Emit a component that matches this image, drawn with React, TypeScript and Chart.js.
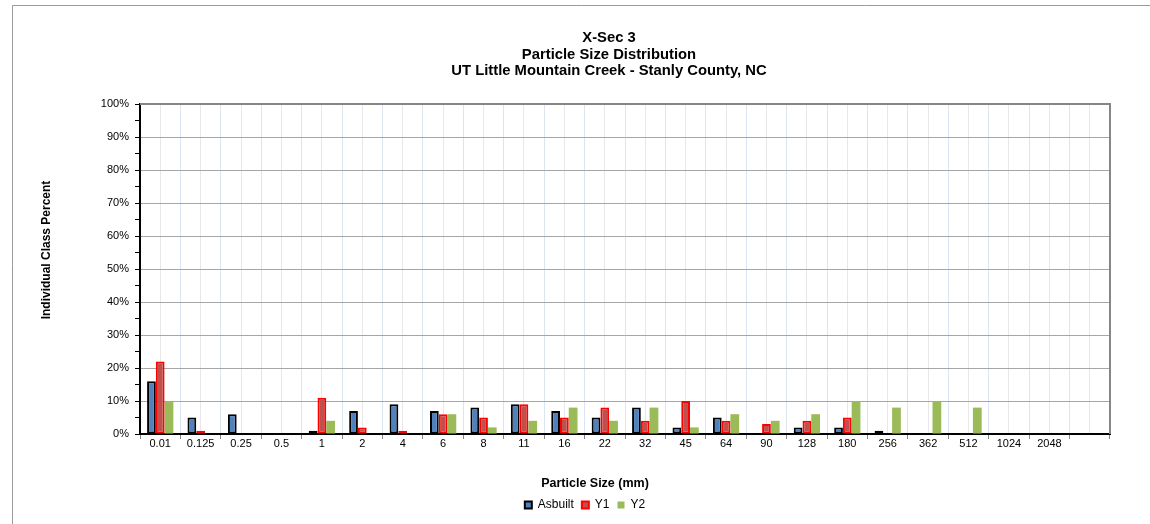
import React, { useEffect, useRef } from "react";
import { Chart, registerables } from "chart.js";

Chart.register(...registerables);

const categories = ["0.01", "0.125", "0.25", "0.5", "1", "2", "4", "6", "8", "11", "16", "22", "32", "45", "64", "90", "128", "180", "256", "362", "512", "1024", "2048", ""];
const asbuiltValues = [16, 5, 6, 0, 1, 7, 9, 7, 8, 9, 7, 5, 8, 2, 5, 0, 2, 2, 1, 0, 0, 0, 0, null];
const y1Values = [22, 1, 0, 0, 11, 2, 1, 6, 5, 9, 5, 8, 4, 10, 4, 3, 4, 5, 0, 0, 0, 0, 0, null];
const y2Values = [10, 0, 0, 0, 4, 0, 0, 6, 2, 4, 8, 4, 8, 2, 6, 4, 6, 10, 8, 10, 8, 0, 0, null];
const titleLines = ["X-Sec 3", "Particle Size Distribution", "UT Little Mountain Creek - Stanly County, NC"];
const xAxisTitle = "Particle Size (mm)";
const yAxisTitle = "Individual Class Percent";

const FONT = "'Liberation Sans', Arial, sans-serif";

const decorPlugin = {
  id: "decor",
  beforeDraw(chart: any) {
    const ctx = chart.ctx;
    ctx.save();
    ctx.strokeStyle = "#9a9a9a";
    ctx.lineWidth = 1;
    ctx.beginPath();
    ctx.moveTo(12.5, 524);
    ctx.lineTo(12.5, 5.5);
    ctx.lineTo(1150, 5.5);
    ctx.stroke();
    ctx.restore();
  },
  afterDraw(chart: any) {
    const ctx = chart.ctx;
    const a = chart.chartArea;
    ctx.save();
    // plot border top & right
    ctx.strokeStyle = "#868686";
    ctx.lineWidth = 2;
    ctx.beginPath();
    ctx.moveTo(a.left, a.top);
    ctx.lineTo(a.right, a.top);
    ctx.lineTo(a.right, a.bottom);
    ctx.stroke();
    // titles
    ctx.fillStyle = "#000";
    ctx.textAlign = "center";
    ctx.textBaseline = "middle";
    ctx.font = `bold 14.8px ${FONT}`;
    titleLines.forEach((t, i) => ctx.fillText(t, 609, 38 + i * 16.5));
    ctx.font = `bold 12.5px ${FONT}`;
    ctx.fillText(xAxisTitle, 595, 484);
    ctx.font = `bold 12px ${FONT}`;
    ctx.translate(47, 250);
    ctx.rotate(-Math.PI / 2);
    ctx.fillText(yAxisTitle, 0, 0);
    ctx.restore();
  },
};

export default function App() {
  const ref = useRef<HTMLCanvasElement>(null);
  useEffect(() => {
    if (!ref.current) return;
    Chart.defaults.font.family = FONT;
    const chart = new Chart(ref.current, {
      type: "bar",
      data: {
        labels: categories,
        datasets: [
          {
            label: "Asbuilt",
            data: asbuiltValues,
            backgroundColor: "#4F81BD",
            borderColor: "#000000",
            borderWidth: 2,
            borderSkipped: false,
          },
          {
            label: "Y1",
            data: y1Values,
            backgroundColor: "#C0504D",
            borderColor: "#FF0000",
            borderWidth: 2,
            borderSkipped: false,
          },
          {
            label: "Y2",
            data: y2Values,
            backgroundColor: "#9BBB59",
            borderColor: "#9BBB59",
            borderWidth: 0,
          },
        ] as any,
      },
      options: {
        animation: false,
        responsive: true,
        maintainAspectRatio: false,
        layout: { padding: { left: 60, right: 40, top: 104, bottom: 3 } },
        datasets: { bar: { categoryPercentage: 0.65, barPercentage: 1 } } as any,
        plugins: {
          title: { display: false },
          tooltip: { enabled: false },
          legend: {
            position: "bottom",
            labels: {
              boxWidth: 7,
              boxHeight: 7,
              padding: 8,
              color: "#000",
              font: { size: 12, family: FONT },
            },
          },
        },
        scales: {
          x: {
            type: "category",
            offset: true,
            grid: {
              offset: true,
              color: "#dce4f0",
              tickColor: "#868686",
              tickLength: 5,
              drawOnChartArea: true,
            },
            border: { color: "#000", width: 2 },
            ticks: {
              color: "#000",
              font: { size: 11, family: FONT },
              padding: -2,
              maxRotation: 0,
              autoSkip: false,
            },
            afterFit: (s: any) => {
              s.height = 57;
            },
          },
          x2: {
            type: "category",
            position: "bottom",
            offset: true,
            grid: { offset: false, color: "#e8e8e8", drawTicks: false },
            border: { display: false },
            ticks: { display: false },
            afterFit: (s: any) => {
              s.height = 0;
            },
          },
          y: {
            min: 0,
            max: 100,
            ticks: {
              stepSize: 5,
              color: "#000",
              font: { size: 11, family: FONT },
              padding: 6,
              callback: (v: any) => (Number(v) % 10 === 0 ? `${v}%` : ""),
            },
            grid: {
              color: (c: any) => (c.tick && c.tick.value % 10 === 0 ? "#a6a6a6" : "rgba(0,0,0,0)"),
              tickColor: "#000",
              tickLength: 5,
            },
            border: { color: "#000", width: 2 },
            afterFit: (s: any) => {
              s.width = 80;
            },
          },
        },
      } as any,
      plugins: [decorPlugin],
    });
    return () => chart.destroy();
  }, []);
  return (
    <div style={{ position: "fixed", left: 0, top: 0, width: 1150, height: 524, background: "#fff" }}>
      <canvas ref={ref} />
    </div>
  );
}
